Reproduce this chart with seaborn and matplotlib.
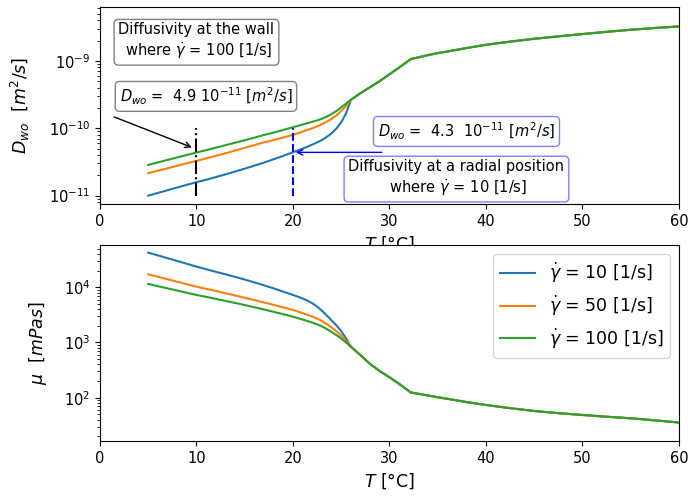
import numpy as np
import pandas as pd
import matplotlib
matplotlib.use("Agg")
import matplotlib.pyplot as plt
import seaborn as sns

# ---------------- data ----------------
shear_labels = [r"$\dot{\gamma}$ = 10 [1/s]", r"$\dot{\gamma}$ = 50 [1/s]", r"$\dot{\gamma}$ = 100 [1/s]"]

# low-temperature branch (series differ), temperature in °C
T_low = [5, 6, 7, 8, 9, 10, 11, 12, 13, 14, 15, 16, 17, 18, 19, 20,
         20.5, 21, 21.5, 22, 22.5, 23, 23.5, 24, 24.5, 25, 25.5, 26]
# log10 of diffusivity [m^2/s]
logD_10 = [-11.00, -10.96, -10.92, -10.88, -10.84, -10.80, -10.765, -10.725, -10.685, -10.643,
           -10.60, -10.555, -10.51, -10.46, -10.41, -10.355,
           -10.33, -10.303, -10.274, -10.243, -10.21, -10.175, -10.13, -10.075, -10.005, -9.91, -9.78, -9.578]
logD_50 = [-10.667, -10.63, -10.594, -10.557, -10.52, -10.484, -10.447, -10.41, -10.372, -10.332,
           -10.29, -10.25, -10.21, -10.175, -10.138, -10.098,
           -10.075, -10.05, -10.025, -10.0, -9.972, -9.94, -9.903, -9.86, -9.81, -9.745, -9.67, -9.578]
logD_100 = [-10.544, -10.507, -10.47, -10.434, -10.397, -10.361, -10.325, -10.289, -10.252, -10.215,
            -10.178, -10.14, -10.10, -10.065, -10.025, -9.985,
            -9.965, -9.945, -9.925, -9.905, -9.884, -9.86, -9.828, -9.79, -9.745, -9.69, -9.635, -9.578]
# log10 of viscosity [mPas]
logmu_10 = [4.627, 4.577, 4.527, 4.477, 4.425, 4.373, 4.327, 4.28, 4.235, 4.188,
            4.14, 4.088, 4.035, 3.98, 3.92, 3.861,
            3.830, 3.797, 3.757, 3.71, 3.65, 3.575, 3.49, 3.40, 3.31, 3.205, 3.075, 2.924]
logmu_50 = [4.235, 4.19, 4.145, 4.10, 4.055, 4.011, 3.972, 3.933, 3.893, 3.852,
            3.81, 3.768, 3.725, 3.68, 3.635, 3.589,
            3.56, 3.53, 3.50, 3.47, 3.433, 3.39, 3.335, 3.27, 3.205, 3.125, 3.03, 2.924]
logmu_100 = [4.06, 4.02, 3.98, 3.94, 3.90, 3.861, 3.826, 3.79, 3.753, 3.716,
             3.678, 3.638, 3.597, 3.555, 3.512, 3.467,
             3.441, 3.415, 3.388, 3.36, 3.328, 3.29, 3.245, 3.19, 3.135, 3.07, 3.0, 2.924]

# high-temperature branch (common to all series)
T_high = [27, 28, 29, 30, 31, 32.2, 34, 35, 36, 38, 40, 42.5, 45, 47.5, 50, 52.5, 55, 57.5, 60]
logD_high = [-9.48, -9.39, -9.30, -9.20, -9.10, -8.975, -8.915, -8.886, -8.862, -8.81,
             -8.762, -8.715, -8.673, -8.637, -8.603, -8.57, -8.539, -8.513, -8.49]
logmu_high = [2.77, 2.61, 2.48, 2.37, 2.25, 2.095, 2.04, 2.007, 1.98, 1.92,
              1.868, 1.81, 1.759, 1.72, 1.687, 1.655, 1.627, 1.59, 1.55]

palette = ["#1f77b4", "#ff7f0e", "#2ca02c"]

# build long-form table
rows = []
for lab, lD, lm in zip(shear_labels, [logD_10, logD_50, logD_100], [logmu_10, logmu_50, logmu_100]):
    for t, d, m in zip(T_low + T_high, lD + logD_high, lm + logmu_high):
        rows.append({"T": t, "D": 10 ** d, "mu": 10 ** m, "shear": lab})
df = pd.DataFrame(rows)

# ---------------- figure ----------------
plt.rcParams["font.family"] = ["DejaVu Sans"]
plt.rcParams["xtick.labelsize"] = 10.5
plt.rcParams["ytick.labelsize"] = 10.5
fig = plt.figure(figsize=(6.88, 4.98), dpi=100)
ax1 = fig.add_axes([0.1453, 0.5904, 0.8416, 0.3956])
ax2 = fig.add_axes([0.1453, 0.1145, 0.8416, 0.3936])

sns.lineplot(data=df, x="T", y="D", hue="shear", palette=palette, estimator=None,
             sort=True, ax=ax1, legend=False, linewidth=1.5)
ax1.set_yscale("log")
ax1.set_xlim(0, 60)
ax1.set_ylim(10 ** -11.124, 10 ** -8.201)
ax1.set_xlabel(r"$T$ [°C]", fontsize=12.5)
ax1.set_ylabel(r"$D_{wo}$  $[m^2/s]$", fontsize=12.5)
ax1.yaxis.set_label_coords(-0.118, 0.5)

# guide lines
ax1.vlines(10, 1e-11, 1e-10, colors="black", linestyles="-.", linewidth=1.5)
ax1.vlines(20, 1e-11, 1e-10, colors="blue", linestyles="--", linewidth=1.5)

# annotations
gray_box = dict(boxstyle="round", facecolor="white", edgecolor="gray")
blue_box = dict(boxstyle="round", facecolor="white", edgecolor=(0, 0, 1, 0.5))

ax1.text(10.0, 10 ** -8.71, "Diffusivity at the wall\n where $\\dot{\\gamma}$ = 100 [1/s]",
         ha="center", va="center", fontsize=10.5, bbox=gray_box)
ax1.text(10.98, 10 ** -9.528, r"$D_{wo}$ =  4.9 $10^{-11}$ $[m^2/s]$",
         ha="center", va="center", fontsize=10.5, bbox=gray_box)
ax1.annotate("", xy=(9.8, 10 ** -10.30), xytext=(1.2, 10 ** -9.817),
             arrowprops=dict(arrowstyle="->", color="black", lw=1.0))

ax1.text(37.98, 10 ** -10.048, r"$D_{wo}$ =  4.3  $10^{-11}$ $[m^2/s]$",
         ha="center", va="center", fontsize=10.5, bbox=blue_box)
ax1.text(36.94, 10 ** -10.74, "Diffusivity at a radial position\n where $\\dot{\\gamma}$ = 10 [1/s]",
         ha="center", va="center", fontsize=10.5, bbox=blue_box)
ax1.annotate("", xy=(20.0, 10 ** -10.358), xytext=(29.5, 10 ** -10.358),
             arrowprops=dict(arrowstyle="->", color="blue", lw=1.0))

sns.lineplot(data=df, x="T", y="mu", hue="shear", palette=palette, estimator=None,
             sort=True, ax=ax2, linewidth=1.5)
ax2.set_yscale("log")
ax2.set_xlim(0, 60)
ax2.set_ylim(10 ** 1.216, 10 ** 4.766)
ax2.set_xlabel(r"$T$ [°C]", fontsize=12.5)
ax2.set_ylabel(r"$\mu$  $[mPas]$", fontsize=12.5)
ax2.yaxis.set_label_coords(-0.088, 0.5)
ax2.legend(loc="upper right", fontsize=12.5, title=None)

fig.savefig("out.png", dpi=100)
